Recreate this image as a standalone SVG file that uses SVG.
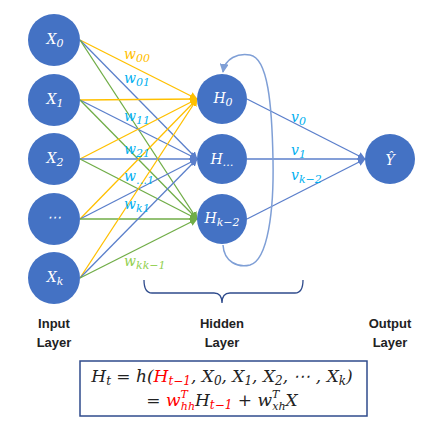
<svg xmlns="http://www.w3.org/2000/svg" width="438" height="432" viewBox="0 0 438 432">
<style>
.node{fill:#4472C4;}
.nt{fill:#fff;font-family:"DejaVu Serif",serif;font-style:italic;font-size:14px;text-anchor:middle;}
.ey{stroke:#FFC000;stroke-width:1.3;fill:none;marker-end:url(#ay);}
.eb{stroke:#5B7FCB;stroke-width:1.3;fill:none;marker-end:url(#ab);}
.eg{stroke:#70AD47;stroke-width:1.3;fill:none;marker-end:url(#ag);}
.lbl{font-family:"DejaVu Serif",serif;font-style:italic;font-size:14px;}
.lb{fill:#00B0F0;}
.ly{fill:#FFC000;}
.lg{fill:#92D050;}
.layer{font-family:"Liberation Sans",sans-serif;font-weight:bold;font-size:13px;fill:#222;text-anchor:middle;}
.eq{font-family:"DejaVu Serif",serif;font-style:italic;font-size:17px;fill:#222;text-anchor:middle;}
.red{fill:#FF0000;}
</style>
<defs>
<marker id="ay" viewBox="0 0 10 10" refX="9" refY="5" markerWidth="6" markerHeight="6" orient="auto"><path d="M0,0L10,5L0,10z" fill="#FFC000"/></marker>
<marker id="ab" viewBox="0 0 10 10" refX="9" refY="5" markerWidth="6" markerHeight="6" orient="auto"><path d="M0,0L10,5L0,10z" fill="#5B7FCB"/></marker>
<marker id="ag" viewBox="0 0 10 10" refX="9" refY="5" markerWidth="6" markerHeight="6" orient="auto"><path d="M0,0L10,5L0,10z" fill="#70AD47"/></marker>
<marker id="ab2" viewBox="0 0 10 10" refX="9" refY="5" markerWidth="6" markerHeight="6" orient="auto"><path d="M0,0L10,5L0,10z" fill="#7F9FD6"/></marker>
</defs>
<g id="connectors">
<line class="ey" x1="80" y1="40" x2="197" y2="99"/>
<line class="eb" x1="80" y1="40" x2="197" y2="159"/>
<line class="eg" x1="80" y1="40" x2="197" y2="219"/>
<line class="ey" x1="80" y1="100" x2="197" y2="99"/>
<line class="eb" x1="80" y1="100" x2="197" y2="159"/>
<line class="eg" x1="80" y1="100" x2="197" y2="219"/>
<line class="ey" x1="80" y1="159" x2="197" y2="99"/>
<line class="eb" x1="80" y1="159" x2="197" y2="159"/>
<line class="eg" x1="80" y1="159" x2="197" y2="219"/>
<line class="ey" x1="80" y1="219" x2="197" y2="99"/>
<line class="eb" x1="80" y1="219" x2="197" y2="159"/>
<line class="eg" x1="80" y1="219" x2="197" y2="219"/>
<line class="ey" x1="80" y1="278" x2="197" y2="99"/>
<line class="eb" x1="80" y1="278" x2="197" y2="159"/>
<line class="eg" x1="80" y1="278" x2="197" y2="219"/>
<line class="eb" x1="247" y1="99" x2="365" y2="159"/>
<line class="eb" x1="247" y1="159" x2="365" y2="159"/>
<line class="eb" x1="247" y1="219" x2="365" y2="159"/>
<path d="M223,245 C224,262 238,268 250,265 C268,260 274,210 273,160 C272,105 268,58 250,55 C238,53 225,58 223,72" fill="none" stroke="#7F9FD6" stroke-width="1.5" marker-end="url(#ab2)"/>
<path d="M144,280 Q144,293 152,293 L214,293 Q222,293 222,303 Q222,293 230,293 L295,293 Q303,293 303,280" fill="none" stroke="#2F4B8C" stroke-width="1.3"/>
</g>
<g id="X0"><circle class="node" cx="54" cy="40" r="26"/><text class="nt" x="55" y="44">X<tspan font-size="11" dy="3">0</tspan></text></g>
<g id="X1"><circle class="node" cx="54" cy="100" r="26"/><text class="nt" x="55" y="104">X<tspan font-size="11" dy="3">1</tspan></text></g>
<g id="X2"><circle class="node" cx="54" cy="159" r="26"/><text class="nt" x="55" y="163">X<tspan font-size="11" dy="3">2</tspan></text></g>
<g id="Xdots"><circle class="node" cx="54" cy="219" r="26"/><text class="nt" x="54" y="222" font-style="normal">⋯</text></g>
<g id="Xk"><circle class="node" cx="54" cy="278" r="26"/><text class="nt" x="55" y="282">X<tspan font-size="11" dy="3">k</tspan></text></g>
<g id="H0"><circle class="node" cx="222" cy="99" r="25"/><text class="nt" x="223" y="103">H<tspan font-size="11" dy="3">0</tspan></text></g>
<g id="Hdots"><circle class="node" cx="222" cy="159" r="25"/><text class="nt" x="222" y="164">H<tspan font-size="11" dy="2">…</tspan></text></g>
<g id="Hk2"><circle class="node" cx="222" cy="219" r="25"/><text class="nt" x="222" y="223">H<tspan font-size="11" dy="3">k−2</tspan></text></g>
<g id="Y"><circle class="node" cx="390" cy="159" r="25"/><text class="nt" x="390" y="165">Ŷ</text></g>
<g id="labels">
<text class="lbl ly" x="124" y="59">w<tspan font-size="11" dy="3">00</tspan></text>
<text class="lbl lb" x="124" y="83">w<tspan font-size="11" dy="3">01</tspan></text>
<text class="lbl lb" x="124" y="121">w<tspan font-size="11" dy="3">11</tspan></text>
<text class="lbl lb" x="124" y="154">w<tspan font-size="11" dy="3">21</tspan></text>
<text class="lbl lb" x="124" y="181">w<tspan font-size="11" dy="3">…1</tspan></text>
<text class="lbl lb" x="124" y="209">w<tspan font-size="11" dy="3">k1</tspan></text>
<text class="lbl lg" x="124" y="266">w<tspan font-size="11" dy="3">kk−1</tspan></text>
<text class="lbl lb" x="291" y="122">v<tspan font-size="11" dy="3">0</tspan></text>
<text class="lbl lb" x="291" y="155">v<tspan font-size="11" dy="3">1</tspan></text>
<text class="lbl lb" x="291" y="180">v<tspan font-size="11" dy="3">k−2</tspan></text>
</g>
<g id="layers">
<text class="layer" x="54" y="328">Input</text><text class="layer" x="54" y="347">Layer</text>
<text class="layer" x="222" y="328">Hidden</text><text class="layer" x="222" y="347">Layer</text>
<text class="layer" x="390" y="328">Output</text><text class="layer" x="390" y="347">Layer</text>
</g>
<g id="equation">
<rect x="80" y="361" width="287" height="55" fill="#fff" stroke="#2F4B8C" stroke-width="1.5"/>
<text class="eq" x="222" y="382">H<tspan font-size="12" dy="3">t</tspan><tspan dy="-3"> = h(</tspan><tspan class="red">H</tspan><tspan class="red" font-size="12" dy="3">t−1</tspan><tspan dy="-3">, X</tspan><tspan font-size="12" dy="3">0</tspan><tspan dy="-3">, X</tspan><tspan font-size="12" dy="3">1</tspan><tspan dy="-3">, X</tspan><tspan font-size="12" dy="3">2</tspan><tspan dy="-3">, ⋯ , X</tspan><tspan font-size="12" dy="3">k</tspan><tspan dy="-3">)</tspan></text>
<text class="eq" x="222" y="406">= <tspan class="red">w</tspan><tspan class="red" font-size="11" dy="-8">T</tspan><tspan class="red" font-size="11" dx="-7" dy="12">hh</tspan><tspan dy="-4">H</tspan><tspan class="red" font-size="12" dy="3">t−1</tspan><tspan dy="-3"> + w</tspan><tspan font-size="11" dy="-8">T</tspan><tspan font-size="11" dx="-7" dy="12">xh</tspan><tspan dy="-4">X</tspan></text>
</g>
</svg>
